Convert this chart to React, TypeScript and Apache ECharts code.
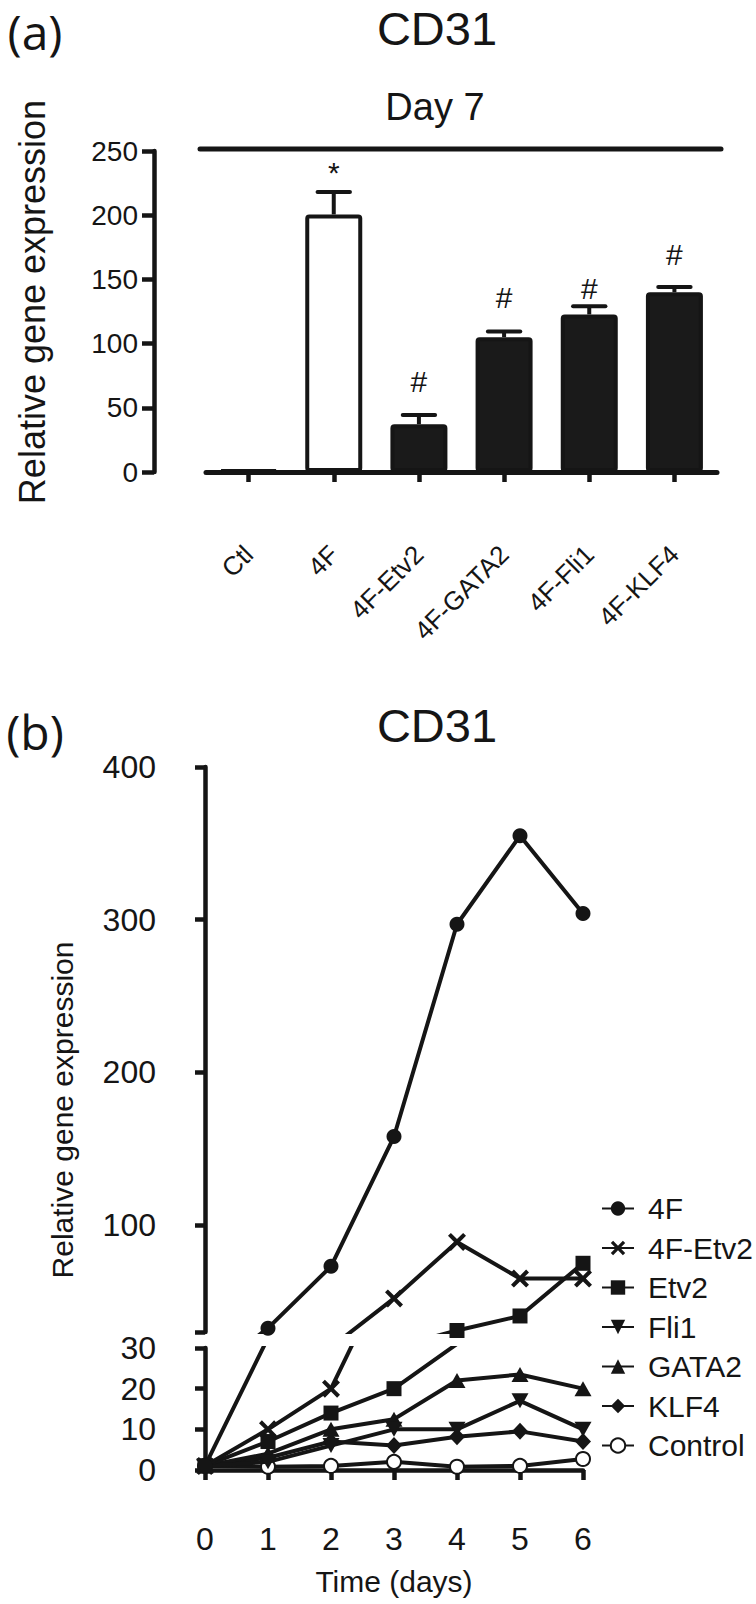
import React, { useEffect, useRef } from "react";
import * as echarts from "echarts";

// ---------- Panel (a) data ----------
const barCategories = ["Ctl", "4F", "4F-Etv2", "4F-GATA2", "4F-Fli1", "4F-KLF4"];
const barMeans = [1.5, 200.6, 37.2, 105, 122.7, 140];
const barErrors = [0, 17.4, 7.2, 4.4, 6.4, 4];
const sigMarks = ["", "*", "#", "#", "#", "#"];
const sigLevels = [0, 233, 70.5, 135.8, 143.2, 169.5];
const barTickValues = [0, 50, 100, 150, 200, 250];

// ---------- Panel (b) data ----------
const days = [0, 1, 2, 3, 4, 5, 6];
const lineNames = ["4F", "4F-Etv2", "Etv2", "Fli1", "GATA2", "KLF4", "Control"];
const v4F = [1, 32.5, 73, 158, 297, 355, 304];
const v4FEtv2 = [1, 10, 20, 52, 89, 65, 65];
const vEtv2 = [1, 7, 14, 20, 31, 40.5, 75];
const vFli1 = [1, 2, 6, 10, 10, 17, 10];
const vGATA2 = [1, 4, 10, 12.5, 22, 23.5, 20];
const vKLF4 = [1, 3, 7, 6, 8.2, 9.5, 7];
const vControl = [1, 0.8, 1, 2, 0.8, 1, 2.7];
const upperTicks = [30, 100, 200, 300, 400];
const upperLabels = [100, 200, 300, 400];
const lowerTicks = [0, 10, 20, 30];

const INK = "#151515";
const FONT = '"Liberation Sans", Arial, Helvetica, sans-serif';
const PANEL_FONT = '"Open Sans", "Liberation Sans", sans-serif';

export default function App() {
  const ref = useRef<HTMLDivElement>(null);

  useEffect(() => {
    if (!ref.current) return;
    const chart = echarts.init(ref.current, undefined, { renderer: "svg" });

    const lineValues = [v4F, v4FEtv2, vEtv2, vFli1, vGATA2, vKLF4, vControl];
    const symbols: any[] = [
      { symbol: "circle", symbolSize: 15 },
      {
        symbol:
          "path://M0,3.2L3.2,0L10,6.8L16.8,0L20,3.2L13.2,10L20,16.8L16.8,20L10,13.2L3.2,20L0,16.8L6.8,10Z",
        symbolSize: 18,
      },
      { symbol: "rect", symbolSize: 15 },
      { symbol: "path://M0,0L20,0L10,17Z", symbolSize: [17, 15] },
      { symbol: "triangle", symbolSize: [17, 15] },
      { symbol: "diamond", symbolSize: [16, 17] },
      { symbol: "emptyCircle", symbolSize: 14 },
    ];

    const lineSeries: any[] = [];
    [1, 2].forEach((gi) => {
      lineNames.forEach((name, k) => {
        lineSeries.push({
          type: "line",
          name,
          xAxisIndex: gi,
          yAxisIndex: gi,
          data: days.map((d, i) => [d, lineValues[k][i]]),
          clip: true,
          ...symbols[k],
          showSymbol: true,
          lineStyle: { color: INK, width: 4 },
          itemStyle: { color: INK, borderColor: INK, borderWidth: k === 6 ? 3.5 : 0 },
          z: 10 - k,
        });
      });
    });

    const axisLineStyle = { color: INK, width: 4.5 };

    const option: any = {
      animation: false,
      textStyle: { fontFamily: FONT, color: INK },
      grid: [
        { left: 206, top: 151, width: 511, height: 321 },
        { left: 205, top: 767, width: 378, height: 565 },
        { left: 205, top: 1348, width: 378, height: 122 },
      ],
      xAxis: [
        {
          gridIndex: 0,
          type: "category",
          data: barCategories,
          offset: 52,
          axisLine: { show: true, lineStyle: { color: INK, width: 5 } },
          axisTick: { show: true, alignWithLabel: true, length: 10, lineStyle: axisLineStyle },
          axisLabel: { rotate: 45, interval: 0, fontSize: 26, color: INK, margin: 26, fontFamily: FONT },
          splitLine: { show: false },
        },
        {
          gridIndex: 1,
          type: "value",
          min: 0,
          max: 6,
          interval: 1,
          show: false,
        },
        {
          gridIndex: 2,
          type: "value",
          min: days[0],
          max: days[days.length - 1],
          interval: 1,
          offset: 37,
          axisLine: { show: true, lineStyle: axisLineStyle },
          axisTick: { show: true, length: 10, lineStyle: axisLineStyle },
          axisLabel: { fontSize: 32, color: INK, margin: 16, fontFamily: FONT },
          splitLine: { show: false },
          name: "Time (days)",
          nameLocation: "middle",
          nameGap: 59,
          nameTextStyle: { fontSize: 30, color: INK, fontFamily: FONT },
        },
      ],
      yAxis: [
        {
          gridIndex: 0,
          type: "value",
          min: barTickValues[0],
          max: barTickValues[barTickValues.length - 1],
          interval: 50,
          offset: 52,
          axisLine: { show: true, lineStyle: axisLineStyle },
          axisTick: { show: true, length: 12, lineStyle: axisLineStyle },
          axisLabel: { fontSize: 28, color: INK, margin: 16, fontFamily: FONT },
          splitLine: { show: false },
        },
        {
          gridIndex: 1,
          type: "value",
          min: 30,
          max: 400,
          offset: 38,
          axisLine: { show: true, lineStyle: axisLineStyle },
          axisTick: { show: true, length: 10, lineStyle: axisLineStyle, customValues: upperTicks },
          axisLabel: { fontSize: 32, color: INK, margin: 11, fontFamily: FONT, customValues: upperLabels },
          splitLine: { show: false },
        },
        {
          gridIndex: 2,
          type: "value",
          min: lowerTicks[0],
          max: lowerTicks[lowerTicks.length - 1],
          interval: 10,
          offset: 38,
          axisLine: { show: true, lineStyle: axisLineStyle },
          axisTick: { show: true, length: 10, lineStyle: axisLineStyle },
          axisLabel: { fontSize: 32, color: INK, margin: 11, fontFamily: FONT },
          splitLine: { show: false },
        },
      ],
      legend: {
        data: lineNames,
        orient: "vertical",
        left: 601,
        top: 1189,
        padding: 0,
        itemGap: 0.5,
        itemWidth: 32,
        itemHeight: 18,
        selectedMode: false,
        textStyle: { fontSize: 30, color: INK, fontFamily: FONT, lineHeight: 39, padding: [0, 0, 0, 9] },
      },
      series: [
        {
          type: "bar",
          xAxisIndex: 0,
          yAxisIndex: 0,
          barWidth: 57,
          data: barMeans.map((v, i) => ({
            value: v,
            itemStyle: barCategories[i] === "4F" ? { color: "#ffffff" } : undefined,
          })),
          itemStyle: { color: "#1a1a1a", borderColor: INK, borderWidth: 4, borderRadius: 2 },
          z: 2,
        },
        {
          type: "custom",
          xAxisIndex: 0,
          yAxisIndex: 0,
          data: barMeans.map((m, i) => [i, m, m + barErrors[i]]),
          renderItem: (params: any, api: any) => {
            const x = api.value(0);
            if (api.value(2) <= api.value(1)) return { type: "group", children: [] };
            const base = api.coord([x, api.value(1)]);
            const top = api.coord([x, api.value(2)]);
            const half = api.size([1, 0])[0] * 0.19;
            return {
              type: "group",
              children: [
                { type: "line", shape: { x1: base[0], y1: base[1], x2: top[0], y2: top[1] }, style: { stroke: INK, lineWidth: 4 } },
                { type: "line", shape: { x1: top[0] - half, y1: top[1], x2: top[0] + half, y2: top[1] }, style: { stroke: INK, lineWidth: 4, lineCap: "round" } },
              ],
            };
          },
          z: 1,
        },
        {
          type: "custom",
          xAxisIndex: 0,
          yAxisIndex: 0,
          data: sigLevels.map((v, i) => [i, v]).filter((d) => sigMarks[d[0]] !== ""),
          renderItem: (params: any, api: any) => {
            const idx = api.value(0);
            const p = api.coord([idx, api.value(1)]);
            return {
              type: "text",
              x: p[0],
              y: p[1],
              style: { text: sigMarks[idx], fontSize: 30, fontFamily: FONT, fill: INK, align: "center", verticalAlign: "middle" },
            };
          },
          z: 3,
        },
        ...lineSeries,
      ],
      graphic: [
        { type: "text", x: 35, y: 31, style: { text: "(a)", font: `48px ${PANEL_FONT}`, fill: INK, align: "center", verticalAlign: "middle" } },
        { type: "text", x: 437, y: 28, style: { text: "CD31", font: `47px ${FONT}`, fill: INK, align: "center", verticalAlign: "middle" } },
        { type: "text", x: 435, y: 107, style: { text: "Day 7", font: `38px ${FONT}`, fill: INK, align: "center", verticalAlign: "middle" } },
        { type: "line", shape: { x1: 200, y1: 149, x2: 721, y2: 149 }, style: { stroke: INK, lineWidth: 5, lineCap: "round" } },
        { type: "text", x: 32, y: 302, rotation: Math.PI / 2, style: { text: "Relative gene expression", font: `36px ${FONT}`, fill: INK, align: "center", verticalAlign: "middle" } },
        { type: "text", x: 35, y: 731, style: { text: "(b)", font: `48px ${PANEL_FONT}`, fill: INK, align: "center", verticalAlign: "middle" } },
        { type: "text", x: 437, y: 725, style: { text: "CD31", font: `47px ${FONT}`, fill: INK, align: "center", verticalAlign: "middle" } },
        { type: "text", x: 62, y: 1110, rotation: Math.PI / 2, style: { text: "Relative gene expression", font: `30px ${FONT}`, fill: INK, align: "center", verticalAlign: "middle" } },
      ],
    };

    chart.setOption(option);
    return () => chart.dispose();
  }, []);

  return (
    <div
      ref={ref}
      style={{ position: "absolute", left: 0, top: 0, width: 756, height: 1604, background: "#fff" }}
    />
  );
}
